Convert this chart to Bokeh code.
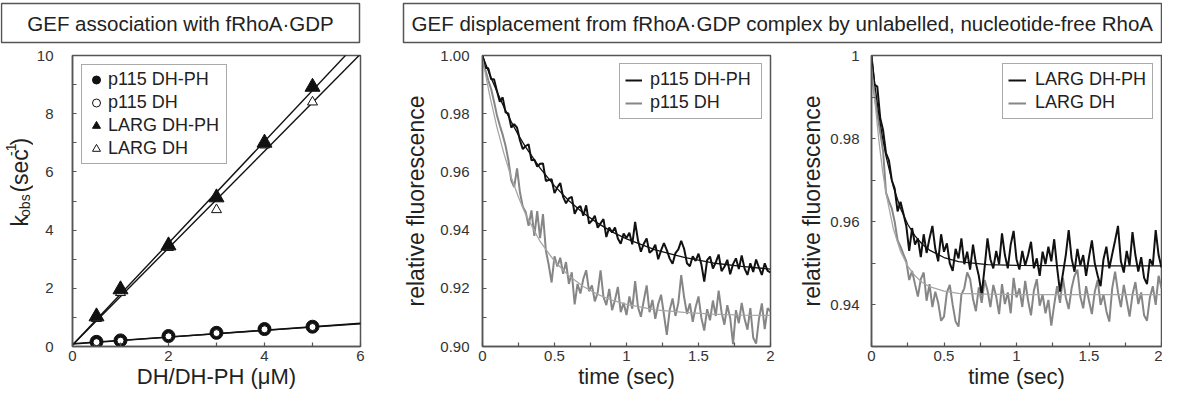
import math
from bokeh.plotting import figure
from bokeh.layouts import column, row
from bokeh.models import (Range1d, FixedTicker, CustomJSTickFormatter, Label,
                          Legend, LegendItem)
from bokeh.embed import file_html
from bokeh.resources import INLINE

FONT = "Liberation Sans"

# ---------------- Panel 1: kobs vs concentration ----------------
conc_uM = [0.5, 1, 2, 3, 4, 5]
p115_dhph_kobs = [0.16, 0.21, 0.36, 0.47, 0.60, 0.68]
p115_dh_kobs = [0.15, 0.20, 0.35, 0.46, 0.59, 0.67]
larg_dhph_kobs = [1.03, 1.96, 3.47, 5.12, 7.00, 8.92]
larg_dh_kobs = [0.96, 1.85, 3.40, 4.70, 6.92, 8.40]
fit_conc = [0, 6]
fit_larg_dhph = [0.05, 10.55]
fit_larg_dh = [0.05, 10.05]
fit_p115_dhph = [0.08, 0.80]
fit_p115_dh = [0.10, 0.78]

# ---------------- Panels 2 & 3: time courses ----------------
time_s = [round(0.02 * i, 2) for i in range(101)]

p115_dhph_trace = [
    1.0000, 0.9958, 0.9956, 0.9918, 0.9918, 0.9879, 0.9841, 0.9856, 0.9805, 0.9800,
    0.9752, 0.9764, 0.9752, 0.9709, 0.9678, 0.9689, 0.9695, 0.9640, 0.9642, 0.9618,
    0.9628, 0.9629, 0.9569, 0.9572, 0.9575, 0.9527, 0.9547, 0.9562, 0.9514, 0.9492,
    0.9509, 0.9514, 0.9456, 0.9476, 0.9483, 0.9449, 0.9485, 0.9422, 0.9433, 0.9449,
    0.9408, 0.9423, 0.9438, 0.9376, 0.9409, 0.9392, 0.9409, 0.9371, 0.9353, 0.9388,
    0.9373, 0.9391, 0.9351, 0.9428, 0.9364, 0.9326, 0.9353, 0.9371, 0.9322, 0.9331,
    0.9350, 0.9300, 0.9330, 0.9355, 0.9331, 0.9302, 0.9284, 0.9321, 0.9334, 0.9363,
    0.9336, 0.9286, 0.9276, 0.9310, 0.9294, 0.9319, 0.9282, 0.9223, 0.9297, 0.9309,
    0.9268, 0.9289, 0.9316, 0.9259, 0.9274, 0.9298, 0.9248, 0.9283, 0.9303, 0.9266,
    0.9313, 0.9268, 0.9246, 0.9286, 0.9256, 0.9299, 0.9271, 0.9246, 0.9286, 0.9260,
    0.9255]
p115_dh_trace = [
    0.9980, 0.9950, 0.9915, 0.9885, 0.9842, 0.9795, 0.9760, 0.9728, 0.9690, 0.9640,
    0.9570, 0.9548, 0.9612, 0.9530, 0.9480, 0.9462, 0.9415, 0.9468, 0.9380, 0.9465,
    0.9372, 0.9455, 0.9330, 0.9280, 0.9220, 0.9310, 0.9275, 0.9305, 0.9250, 0.9290,
    0.9215, 0.9255, 0.9145, 0.9215, 0.9182, 0.9232, 0.9262, 0.9190, 0.9210, 0.9155,
    0.9185, 0.9262, 0.9170, 0.9142, 0.9198, 0.9125, 0.9160, 0.9205, 0.9118, 0.9150,
    0.9108, 0.9172, 0.9130, 0.9225, 0.9135, 0.9102, 0.9158, 0.9210, 0.9118, 0.9160,
    0.9095, 0.9145, 0.9178, 0.9110, 0.9040, 0.9125, 0.9165, 0.9105, 0.9150, 0.9245,
    0.9170, 0.9112, 0.9148, 0.9085, 0.9135, 0.9172, 0.9098, 0.9055, 0.9128, 0.9090,
    0.9158, 0.9105, 0.9192, 0.9118, 0.9075, 0.9142, 0.9098, 0.9008, 0.9125, 0.9080,
    0.9150, 0.9095, 0.9058, 0.9132, 0.9030, 0.9010, 0.9095, 0.9148, 0.9060, 0.9132,
    0.9120]
larg_dhph_trace = [
    1.0000, 0.9930, 0.9925, 0.9850, 0.9820, 0.9765, 0.9748, 0.9700, 0.9680, 0.9625,
    0.9648, 0.9620, 0.9590, 0.9530, 0.9585, 0.9545, 0.9560, 0.9515, 0.9570, 0.9525,
    0.9560, 0.9590, 0.9535, 0.9505, 0.9570, 0.9528, 0.9548, 0.9500, 0.9482, 0.9535,
    0.9512, 0.9560, 0.9498, 0.9528, 0.9485, 0.9545, 0.9500, 0.9470, 0.9425, 0.9490,
    0.9560, 0.9510, 0.9488, 0.9530, 0.9498, 0.9572, 0.9520, 0.9488, 0.9545, 0.9578,
    0.9510, 0.9485, 0.9530, 0.9495, 0.9520, 0.9552, 0.9488, 0.9512, 0.9470, 0.9528,
    0.9498, 0.9540, 0.9505, 0.9558, 0.9490, 0.9432, 0.9475, 0.9520, 0.9580, 0.9512,
    0.9480, 0.9535, 0.9495, 0.9520, 0.9470, 0.9515, 0.9555, 0.9500, 0.9470, 0.9445,
    0.9510, 0.9540, 0.9488, 0.9522, 0.9555, 0.9590, 0.9505, 0.9478, 0.9530, 0.9495,
    0.9575, 0.9520, 0.9480, 0.9515, 0.9465, 0.9450, 0.9510, 0.9495, 0.9580, 0.9520,
    0.9490]
larg_dh_trace = [
    0.9960, 0.9905, 0.9860, 0.9815, 0.9770, 0.9670, 0.9650, 0.9632, 0.9600, 0.9555,
    0.9540, 0.9522, 0.9505, 0.9460, 0.9482, 0.9450, 0.9420, 0.9462, 0.9478, 0.9410,
    0.9450, 0.9395, 0.9432, 0.9405, 0.9362, 0.9372, 0.9430, 0.9448, 0.9400, 0.9360,
    0.9348, 0.9425, 0.9440, 0.9478, 0.9462, 0.9415, 0.9385, 0.9442, 0.9405, 0.9460,
    0.9435, 0.9395, 0.9448, 0.9420, 0.9378, 0.9450, 0.9402, 0.9430, 0.9380, 0.9465,
    0.9418, 0.9440, 0.9395, 0.9458, 0.9410, 0.9375, 0.9435, 0.9462, 0.9398, 0.9425,
    0.9380, 0.9412, 0.9350, 0.9400, 0.9445, 0.9405, 0.9465, 0.9418, 0.9390, 0.9440,
    0.9470, 0.9485, 0.9420, 0.9392, 0.9445, 0.9410, 0.9378, 0.9432, 0.9460, 0.9400,
    0.9425, 0.9385, 0.9360, 0.9440, 0.9480, 0.9430, 0.9395, 0.9448, 0.9410, 0.9372,
    0.9425, 0.9455, 0.9402, 0.9430, 0.9375, 0.9362, 0.9418, 0.9445, 0.9400, 0.9470,
    0.9440]

fit_t_p115 = [0, 0.05, 0.1, 0.15, 0.2, 0.25, 0.3, 0.4, 0.5, 0.6, 0.7, 0.8, 0.9, 1.0,
              1.2, 1.4, 1.6, 1.8, 2.0]
fit_p115_dhph_trace = [1.0000, 0.9935, 0.9876, 0.9821, 0.9772, 0.9726, 0.9685, 0.9613,
                       0.9552, 0.9501, 0.9459, 0.9424, 0.9394, 0.9370, 0.9332, 0.9306,
                       0.9287, 0.9275, 0.9266]
fit_p115_dh_trace = [0.9990, 0.9863, 0.9754, 0.9661, 0.9581, 0.9513, 0.9454, 0.9361,
                     0.9293, 0.9243, 0.9206, 0.9179, 0.9159, 0.9145, 0.9126, 0.9117,
                     0.9111, 0.9108, 0.9107]
fit_t_larg = [0, 0.025, 0.05, 0.075, 0.1, 0.15, 0.2, 0.25, 0.3, 0.35, 0.4, 0.5, 0.6,
              0.8, 1.0, 1.5, 2.0]
fit_larg_dhph_trace = [1.0000, 0.9924, 0.9860, 0.9805, 0.9758, 0.9685, 0.9632, 0.9594,
                       0.9566, 0.9546, 0.9532, 0.9514, 0.9504, 0.9497, 0.9495, 0.9494,
                       0.9494]
fit_larg_dh_trace = [0.9995, 0.9886, 0.9798, 0.9726, 0.9669, 0.9584, 0.9529, 0.9493,
                     0.9470, 0.9454, 0.9444, 0.9433, 0.9428, 0.9426, 0.9425, 0.9425,
                     0.9425]

x_ticks_1 = [0, 2, 4, 6]
x_minor_1 = [1, 3, 5]
y_ticks_1 = [0, 2, 4, 6, 8, 10]
y_minor_1 = [1, 3, 5, 7, 9]
t_ticks = [0, 0.5, 1, 1.5, 2]
t_minor = [0.25, 0.75, 1.25, 1.75]
y_ticks_2 = [0.90, 0.92, 0.94, 0.96, 0.98, 1.00]
y_minor_2 = [0.91, 0.93, 0.95, 0.97, 0.99]
y_ticks_3 = [0.94, 0.96, 0.98, 1.00]
y_minor_3 = [0.95, 0.97, 0.99]

BLACK = "#111111"
GRAY = "#868686"
FITGRAY = "#a6a6a6"
AXC = "#555555"
TXT = "#222222"

TITLE_H = 45
FIG_H = 347
TOP, BOT = 10, 46
FRAME_H = FIG_H - TOP - BOT


def make_fig(width, left, right, xr, yr, xlabel):
    p = figure(width=width, height=FIG_H, x_range=xr, y_range=yr,
               toolbar_location=None, output_backend="svg",
               min_border_left=left, min_border_right=right,
               min_border_top=TOP, min_border_bottom=BOT)
    p.grid.visible = False
    p.outline_line_color = AXC
    p.outline_line_width = 1.5
    p.background_fill_color = "white"
    p.border_fill_color = "white"
    for ax in (p.xaxis[0], p.yaxis[0]):
        ax.axis_line_color = AXC
        ax.axis_line_width = 1.5
        ax.major_tick_line_color = AXC
        ax.minor_tick_line_color = AXC
        ax.major_tick_line_width = 1.2
        ax.minor_tick_line_width = 1.2
        ax.major_tick_in = 4
        ax.major_tick_out = 0
        ax.minor_tick_in = 4
        ax.minor_tick_out = 0
        ax.major_label_text_font = FONT
        ax.major_label_text_font_size = "15px"
        ax.major_label_text_color = "#333333"
        ax.axis_label_text_font = FONT
        ax.axis_label_text_font_size = "23px"
        ax.axis_label_text_font_style = "normal"
        ax.axis_label_text_color = TXT
    p.xaxis.axis_label = xlabel
    p.xaxis.axis_label_text_font_size = "22px"
    p.xaxis.major_label_standoff = 4
    p.xaxis.axis_label_standoff = 0
    return p


def style_legend(lg, **kw):
    lg.label_text_font = FONT
    lg.label_text_font_size = "18px"
    lg.label_text_color = TXT
    lg.border_line_color = AXC
    lg.border_line_width = 1.5
    lg.background_fill_color = "white"
    lg.background_fill_alpha = 1.0
    for k, v in kw.items():
        setattr(lg, k, v)


# ---------------- Title strip ----------------
TW = 1162
tp = figure(width=TW, height=TITLE_H, x_range=Range1d(0, TW),
            y_range=Range1d(TITLE_H, 0), toolbar_location=None,
            output_backend="svg", min_border=0, x_axis_type=None, y_axis_type=None)
tp.grid.visible = False
tp.outline_line_color = None
tp.quad(left=[1, 403], right=[359, 1161], top=[3, 3], bottom=[42, 42],
        fill_color="white", line_color=AXC, line_width=1.5)
tp.add_layout(Label(x=180, y=23, text="GEF association with fRhoA\u00b7GDP",
                    text_align="center", text_baseline="middle",
                    text_font=FONT, text_font_size="20.5px", text_color=TXT))
tp.add_layout(Label(x=782, y=23,
                    text="GEF displacement from fRhoA\u00b7GDP complex by unlabelled, nucleotide-free RhoA",
                    text_align="center", text_baseline="middle",
                    text_font=FONT, text_font_size="20.5px", text_color=TXT))

# ---------------- Panel 1 y label strip (k_obs with sub/superscript) ----------------
YL_W = 33
yl = figure(width=YL_W, height=FIG_H, x_range=Range1d(0, YL_W),
            y_range=Range1d(0, FIG_H), toolbar_location=None,
            output_backend="svg", min_border=0, x_axis_type=None, y_axis_type=None)
yl.grid.visible = False
yl.outline_line_color = None
pieces = [("k", "23px", 19.0, 0.0), ("obs", "14px", 24.0, 11.5),
          ("(sec", "23px", 19.0, 40.5), ("-1", "14px", 10.0, 84.2),
          (")", "23px", 19.0, 96.7)]
start_y = BOT + 97
for txt, fs, bx, off in pieces:
    yl.add_layout(Label(x=bx, y=start_y + off, text=txt, angle=math.pi / 2,
                        text_align="left", text_baseline="middle",
                        text_font=FONT, text_font_size=fs, text_color=TXT))

# ---------------- Panel 1 ----------------
f1 = make_fig(400 - YL_W, 37, 40, Range1d(0, 6), Range1d(0, 10), "DH/DH-PH (\u03bcM)")
f1.xaxis.ticker = FixedTicker(ticks=x_ticks_1, minor_ticks=x_minor_1)
f1.yaxis.ticker = FixedTicker(ticks=y_ticks_1, minor_ticks=y_minor_1)
f1.yaxis.major_label_standoff = 19

for fy in (fit_larg_dhph, fit_larg_dh, fit_p115_dhph, fit_p115_dh):
    f1.line(fit_conc, fy, line_color=BLACK, line_width=1.4)

r_p115_dhph = f1.scatter(conc_uM, p115_dhph_kobs, marker="circle", size=13,
                         fill_color=BLACK, line_color=BLACK)
r_p115_dh = f1.scatter(conc_uM, p115_dh_kobs, marker="circle", size=7,
                       fill_color="white", line_color=BLACK, line_width=1)
r_larg_dh = f1.scatter(conc_uM, larg_dh_kobs, marker="triangle", size=10,
                       fill_color="white", line_color=BLACK, line_width=1)
r_larg_dhph = f1.scatter(conc_uM, larg_dhph_kobs, marker="triangle", size=15,
                         fill_color=BLACK, line_color=BLACK)

lg1 = Legend(items=[LegendItem(label="p115 DH-PH", renderers=[r_p115_dhph]),
                    LegendItem(label="p115 DH", renderers=[r_p115_dh]),
                    LegendItem(label="LARG DH-PH", renderers=[r_larg_dhph]),
                    LegendItem(label="LARG DH", renderers=[r_larg_dh])])
style_legend(lg1, location="top_left", margin=9, padding=4, spacing=2,
             glyph_width=20, glyph_height=21, label_height=21,
             label_standoff=2, label_width=114)
f1.add_layout(lg1, "center")

# ---------------- Panel 2 ----------------
f2 = make_fig(390, 79, 20, Range1d(0, 2), Range1d(0.90, 1.00), "time (sec)")
f2.xaxis.ticker = FixedTicker(ticks=t_ticks, minor_ticks=t_minor)
f2.yaxis.ticker = FixedTicker(ticks=y_ticks_2, minor_ticks=y_minor_2)
f2.xaxis.formatter = CustomJSTickFormatter(code="return tick.toString();")
f2.yaxis.formatter = CustomJSTickFormatter(code="return tick.toFixed(2);")
f2.yaxis.axis_label = "relative fluorescence"
f2.yaxis.major_label_standoff = 13
f2.yaxis.axis_label_standoff = 8

g2 = f2.line(time_s, p115_dh_trace, line_color=GRAY, line_width=2.0)
b2 = f2.line(time_s, p115_dhph_trace, line_color=BLACK, line_width=2.0)
f2.line(fit_t_p115, fit_p115_dh_trace, line_color=FITGRAY, line_width=1.3)
f2.line(fit_t_p115, fit_p115_dhph_trace, line_color=BLACK, line_width=1.3)
lg2 = Legend(items=[LegendItem(label="p115 DH-PH", renderers=[b2]),
                    LegendItem(label="p115 DH", renderers=[g2])])
style_legend(lg2, location="top_right", margin=8, padding=5, spacing=2,
             glyph_width=17, glyph_height=20, label_height=20,
             label_standoff=8, label_width=106)
f2.add_layout(lg2, "center")

# ---------------- Panel 3 ----------------
f3 = make_fig(372, 81, 1, Range1d(0, 2), Range1d(0.93, 1.00), "time (sec)")
f3.xaxis.ticker = FixedTicker(ticks=t_ticks, minor_ticks=t_minor)
f3.yaxis.ticker = FixedTicker(ticks=y_ticks_3, minor_ticks=y_minor_3)
f3.xaxis.formatter = CustomJSTickFormatter(code="return tick.toString();")
f3.yaxis.formatter = CustomJSTickFormatter(
    code="return tick > 0.999 ? '1' : tick.toFixed(2);")
f3.yaxis.axis_label = "relative fluorescence"
f3.yaxis.major_label_standoff = 12
f3.yaxis.axis_label_standoff = 2

g3 = f3.line(time_s, larg_dh_trace, line_color=GRAY, line_width=2.0)
b3 = f3.line(time_s, larg_dhph_trace, line_color=BLACK, line_width=2.0)
f3.line(fit_t_larg, fit_larg_dh_trace, line_color=FITGRAY, line_width=1.3)
f3.line(fit_t_larg, fit_larg_dhph_trace, line_color=BLACK, line_width=1.3)
lg3 = Legend(items=[LegendItem(label="LARG DH-PH", renderers=[b3]),
                    LegendItem(label="LARG DH", renderers=[g3])])
style_legend(lg3, location="top_right", margin=8, padding=5, spacing=2,
             glyph_width=18, glyph_height=20, label_height=20,
             label_standoff=9, label_width=112)
f3.add_layout(lg3, "center")

layout = column(tp, row(yl, f1, f2, f3))
open("out.html", "w").write(file_html(layout, INLINE))
